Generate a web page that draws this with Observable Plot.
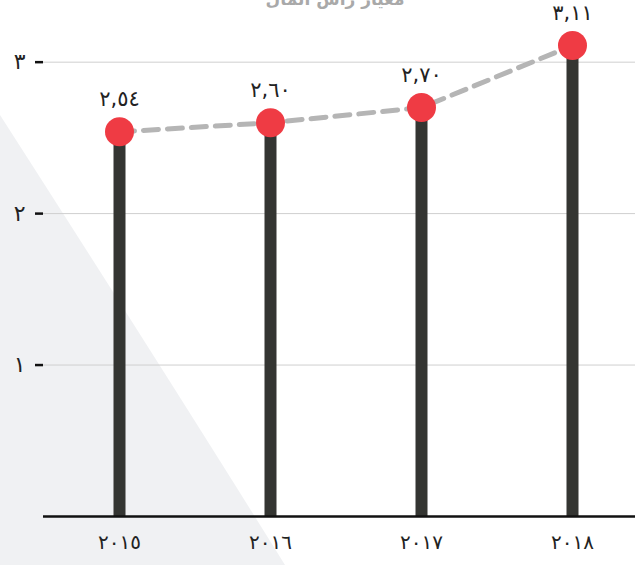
<!DOCTYPE html>
<html lang="ar">
<head>
<meta charset="utf-8">
<script src="https://cdn.jsdelivr.net/npm/d3@7"></script>
<script src="https://cdn.jsdelivr.net/npm/@observablehq/plot@0.6"></script>
<style>
  html, body { margin: 0; padding: 0; background: #ffffff; }
  #wrap { position: relative; width: 635px; height: 565px; overflow: hidden; font-family: "DejaVu Sans", sans-serif; }
  #bg { position: absolute; left: 0; top: 0; }
  #title { position: absolute; left: 0; top: -10px; width: 670px; text-align: center; font-size: 17px; line-height: 18px; color: #a9a9a9; font-weight: bold; direction: rtl; }
  #chart { position: absolute; left: 0; top: 0; }
</style>
</head>
<body>
<div id="wrap">
  <svg id="bg" width="635" height="565"><path d="M0,115 Q170,380 285,565 L0,565 Z" fill="#f0f1f3"/></svg>
  <div id="title">معيار رأس المال</div>
  <div id="chart"></div>
</div>
<script>
const years = ["٢٠١٥", "٢٠١٦", "٢٠١٧", "٢٠١٨"];
const values = [2.54, 2.60, 2.70, 3.11];
const valueLabels = ["٢,٥٤", "٢,٦٠", "٢,٧٠", "٣,١١"];
const yTicks = [1, 2, 3];
const yTickLabels = ["١", "٢", "٣"];

const data = years.map((y, i) => ({year: y, value: values[i], label: valueLabels[i]}));

const chart = Plot.plot({
  width: 635,
  height: 565,
  marginLeft: 43,
  marginRight: 0,
  marginTop: 0,
  marginBottom: 49,
  style: {background: "transparent", fontFamily: "DejaVu Sans, sans-serif", color: "#222"},
  x: {type: "point", domain: years, range: [118, 572], padding: 0, axis: null},
  y: {domain: [0, 3.11], range: [516, 45], axis: null},
  marks: [
    Plot.gridY(yTicks, {stroke: "#cfcfcf", strokeOpacity: 1, strokeWidth: 1}),
    Plot.axisY({ticks: yTicks, tickFormat: d => yTickLabels[yTicks.indexOf(d)], label: null, tickSize: 8, tickPadding: 10, fontSize: 22, strokeWidth: 2.5, stroke: "#111", fill: "#222"}),
    Plot.ruleX(data, {x: "year", y1: 0, y2: "value", stroke: "#343532", strokeWidth: 12}),
    Plot.line(data, {x: "year", y: "value", stroke: "#b5b5b5", strokeWidth: 5, strokeDasharray: "15,9"}),
    Plot.dot(data, {x: "year", y: "value", r: 14.5, fill: "#ef3b44", stroke: "none"}),
    Plot.text(data, {x: "year", y: "value", text: "label", dy: -26, lineAnchor: "bottom", fontSize: 21, fill: "#222"}),
    Plot.ruleY([0], {stroke: "#111", strokeWidth: 2.5}),
    Plot.axisX({label: null, tickSize: 0, tickPadding: 18, fontSize: 20, fill: "#222"})
  ]
});
document.getElementById("chart").appendChild(chart);
</script>
</body>
</html>
